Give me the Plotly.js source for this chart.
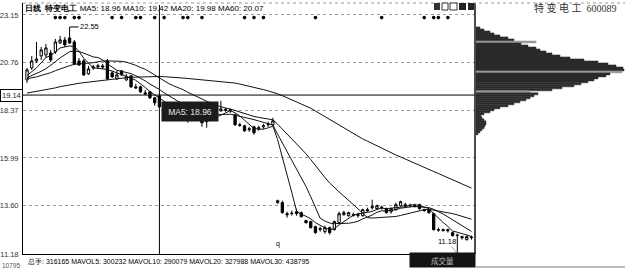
<!DOCTYPE html>
<html>
<head>
<meta charset="utf-8">
<script src="https://cdn.plot.ly/plotly-3.0.1.min.js"></script>
<style>
  html, body { margin: 0; padding: 0; background: #fff; }
  #chart { width: 625px; height: 272px; }
</style>
</head>
<body>
<div id="chart"></div>
<script>
// ---- daily bars: 特变电工 (600089) ----
const open  = [19.90,20.50,20.85,21.10,21.15,21.25,21.30,21.75,21.90,22.00,21.80,20.85,20.85,20.20,20.50,20.55,20.60,20.85,20.25,19.95,
               20.35,19.90,20.10,19.55,19.55,19.25,19.30,19.00,19.10,18.55,18.45,18.60,18.50,18.30,18.35,18.10,18.20,18.05,17.80,17.95,
               18.20,18.35,18.42,18.35,18.15,17.65,17.60,17.40,17.55,17.45,17.55,17.65,17.65,13.75,13.75,13.20,13.20,13.30,13.25,12.85,
               12.80,12.55,12.40,12.30,12.50,12.40,12.75,13.15,13.10,13.15,13.10,13.10,13.40,13.50,13.45,13.50,13.45,13.30,13.40,13.60,
               13.65,13.60,13.60,13.65,13.40,13.40,13.20,12.40,12.35,12.40,12.25,12.10,12.05,11.90,12.00];
const high  = [20.50,21.10,21.80,21.55,21.70,21.40,21.95,22.10,22.05,22.55,21.90,21.00,20.95,20.60,20.65,20.70,20.70,20.95,20.35,20.35,
               20.40,20.20,20.15,19.70,19.60,19.40,19.35,19.05,19.15,18.70,18.70,18.75,18.55,18.45,18.40,18.30,18.30,18.10,18.00,18.30,
               18.45,18.85,18.50,18.45,18.20,17.75,17.65,17.55,17.60,17.60,17.70,17.80,18.00,13.90,13.85,13.30,13.35,13.45,13.30,12.90,
               12.85,12.60,12.55,12.60,12.55,12.85,13.30,13.35,13.30,13.25,13.25,13.45,13.50,13.90,13.65,13.60,13.50,13.50,13.75,13.85,
               13.75,13.70,13.70,13.70,13.45,13.45,13.25,12.50,12.45,12.45,12.30,12.20,12.10,12.10,12.10];
const low   = [19.75,20.40,20.75,20.90,21.00,20.80,21.20,21.70,21.55,21.70,20.65,20.60,20.10,20.15,20.40,20.45,20.45,19.90,20.00,19.90,
               20.10,19.85,19.50,19.45,19.25,19.15,18.95,18.60,18.50,18.30,18.35,18.40,18.20,18.10,17.75,18.00,17.95,17.55,17.50,17.90,
               18.10,18.30,18.30,18.25,17.60,17.55,17.30,17.30,17.15,17.35,17.45,17.55,17.60,13.70,13.20,13.00,13.10,13.10,13.00,12.70,
               12.45,12.20,12.30,12.20,12.15,12.35,12.70,13.10,13.05,13.05,13.00,13.05,13.30,13.40,13.40,13.40,13.20,13.20,13.35,13.55,
               13.50,13.50,13.50,13.40,13.30,13.20,12.35,12.30,12.30,12.25,12.05,11.18,11.90,11.85,11.90];
const close = [20.40,20.85,20.95,21.40,21.50,20.90,21.80,21.90,21.65,21.75,20.70,20.65,20.15,20.45,20.55,20.60,20.55,19.95,20.05,20.15,
               20.15,20.05,19.55,19.50,19.30,19.20,19.00,18.75,18.55,18.45,18.60,18.50,18.30,18.35,18.10,18.20,18.05,17.75,17.90,18.20,
               18.35,18.45,18.38,18.40,17.65,17.62,17.35,17.45,17.25,17.50,17.60,17.68,17.85,13.85,13.25,13.15,13.22,13.20,13.05,12.75,
               12.50,12.25,12.45,12.50,12.25,12.80,13.20,13.25,13.25,13.12,13.15,13.40,13.35,13.55,13.60,13.52,13.25,13.45,13.65,13.80,
               13.60,13.62,13.58,13.45,13.35,13.25,12.40,12.38,12.40,12.35,12.10,12.12,12.00,12.05,12.02];

// moving averages of the close
const ma5  = [20.12,20.31,20.50,20.76,21.02,21.12,21.31,21.50,21.55,21.60,21.56,21.33,20.98,20.74,20.50,20.48,20.46,20.42,20.34,20.26,
              20.17,20.07,19.99,19.88,19.71,19.52,19.31,19.15,18.96,18.79,18.67,18.57,18.48,18.44,18.37,18.29,18.20,18.09,18.00,18.02,
              18.05,18.13,18.26,18.36,18.25,18.10,17.88,17.69,17.46,17.43,17.43,17.50,17.58,16.90,16.05,15.16,14.26,13.33,13.17,13.07,
              12.94,12.75,12.60,12.49,12.39,12.45,12.64,12.80,12.95,13.12,13.19,13.23,13.25,13.31,13.41,13.48,13.45,13.47,13.49,13.53,
              13.55,13.62,13.65,13.61,13.52,13.45,13.21,12.97,12.76,12.56,12.33,12.27,12.19,12.12,12.06];
const ma10 = [20.01,20.11,20.20,20.33,20.46,20.62,20.81,21.00,21.16,21.31,21.34,21.32,21.24,21.15,21.05,21.02,20.90,20.70,20.54,20.38,
              20.33,20.27,20.21,20.11,19.99,19.85,19.69,19.57,19.42,19.25,19.10,18.94,18.82,18.70,18.58,18.48,18.39,18.29,18.22,18.20,
              18.17,18.17,18.17,18.18,18.13,18.08,18.01,17.98,17.91,17.84,17.77,17.69,17.64,17.18,16.74,16.29,15.88,15.46,15.04,14.56,
              14.05,13.51,12.97,12.83,12.73,12.70,12.70,12.70,12.72,12.76,12.82,12.94,13.03,13.13,13.27,13.34,13.34,13.36,13.40,13.47,
              13.52,13.54,13.56,13.55,13.53,13.50,13.42,13.31,13.18,13.04,12.89,12.74,12.58,12.44,12.31];
const ma20 = [19.96,20.00,20.05,20.12,20.18,20.26,20.36,20.45,20.53,20.61,20.68,20.71,20.72,20.74,20.76,20.82,20.85,20.85,20.85,20.85,
              20.83,20.79,20.72,20.63,20.52,20.43,20.29,20.14,19.98,19.82,19.71,19.60,19.51,19.41,19.28,19.16,19.04,18.93,18.82,18.72,
              18.63,18.55,18.49,18.44,18.36,18.28,18.20,18.13,18.07,18.02,17.97,17.93,17.90,17.68,17.44,17.18,16.94,16.72,16.47,16.20,
              15.91,15.60,15.30,15.01,14.74,14.50,14.29,14.08,13.88,13.66,13.44,13.22,13.00,12.98,13.00,13.02,13.02,13.03,13.06,13.11,
              13.17,13.24,13.29,13.34,13.40,13.42,13.38,13.34,13.29,13.26,13.20,13.14,13.07,13.00,12.92];
const ma60 = [19.24,19.28,19.32,19.36,19.41,19.45,19.50,19.56,19.61,19.66,19.70,19.73,19.76,19.79,19.82,19.85,19.89,19.91,19.93,19.96,
              19.99,20.01,20.03,20.04,20.05,20.06,20.07,20.07,20.07,20.06,20.05,20.03,20.01,19.99,19.97,19.95,19.93,19.90,19.88,19.86,
              19.84,19.82,19.80,19.78,19.74,19.69,19.64,19.59,19.53,19.47,19.41,19.35,19.29,19.20,19.11,19.01,18.91,18.82,18.72,18.61,
              18.48,18.34,18.20,18.05,17.89,17.76,17.62,17.47,17.33,17.19,17.06,16.94,16.83,16.71,16.60,16.48,16.36,16.25,16.14,16.04,
              15.93,15.82,15.72,15.62,15.52,15.42,15.31,15.21,15.10,15.00,14.89,14.79,14.68,14.58,14.48];

// days carrying an information marker
const eventDays = [6,7,8,10,11,18,20,23,24,27,29,33,34,37,46,48,50,61,75,84,86,87,89];

// price axis labels
const priceTicks = [23.15, 20.76, 18.37, 15.99, 13.60, 11.18];
const priceTickText = ['23.15', '20.76', '18.37', '15.99', '13.60', '11.18'];

// cursor position
const cursorDay = 28;
const cursorPrice = 19.14;

// volume line of the status bar
const volNames  = ['总手', 'MAVOL5', 'MAVOL10', 'MAVOL20', 'MAVOL30'];
const volValues = [316165, 300232, 290079, 327988, 438795];

// chip distribution (volume by price)
const profilePrice = [22.5,22.4,22.3,22.2,22.1,22.0,21.9,21.8,21.7,21.6,21.5,21.4,21.3,21.2,21.1,21.0,20.9,20.8,20.7,20.6,
                      20.5,20.4,20.3,20.2,20.1,20.0,19.9,19.8,19.7,19.6,19.5,19.4,19.3,19.2,19.1,19.0,18.9,18.8,18.7,18.6,
                      18.5,18.4,18.3,18.2,18.1,18.0,17.9,17.8,17.7,17.6,17.5,17.4,17.3,17.2];
const profileVolume = [4,8,14,18,24,32,38,60,45,52,60,64,70,76,84,94,108,122,132,140,
                       147,148,146,134,130,122,118,112,105,98,86,76,54,62,58,54,50,44,38,32,
                       24,18,14,8,5,6,8,10,10,9,8,6,4,2];
const costLines = [21.8, 20.3, 19.3];

// ---- page geometry ----
const W = 625, H = 272;
const M = { l: 23, r: 0, t: 3, b: 18 };
const plotW = W - M.l - M.r, plotH = H - M.t - M.b;
const px = x => (x - M.l) / plotW;            // pixel x -> paper x
const py = y => (H - M.b - y) / plotH;        // pixel y -> paper y
const mainEnd = px(475), sideStart = px(476);
const Y_RANGE = [11.18, 23.75];
const X_RANGE = [-0.85, 94.74];
const EVENT_Y = 23.02;

const days = close.map((_, i) => i);
const f2 = v => v.toFixed(2);
const BASE = 'Liberation Sans, Arial, sans-serif';
const chipColors = profilePrice.map(p => costLines.includes(p) ? '#9a9a9a' : '#2b2b2b');

const traces = [
  {
    type: 'candlestick', x: days, open, high, low, close,
    xaxis: 'x', yaxis: 'y',
    increasing: { line: { color: '#000', width: 1 }, fillcolor: '#fff' },
    decreasing: { line: { color: '#000', width: 1 }, fillcolor: '#000' },
    whiskerwidth: 0, hoverinfo: 'skip', showlegend: false
  },
  ...[ma5, ma10, ma20, ma60].map(ma => ({
    type: 'scatter', mode: 'lines', x: days, y: ma,
    xaxis: 'x', yaxis: 'y',
    line: { color: '#111', width: 1 }, hoverinfo: 'skip', showlegend: false
  })),
  {
    type: 'scatter', mode: 'markers', x: eventDays, y: eventDays.map(() => EVENT_Y),
    xaxis: 'x', yaxis: 'y',
    marker: { color: '#000', size: 3.6 }, hoverinfo: 'skip', showlegend: false
  },
  {
    type: 'bar', orientation: 'h', y: profilePrice, x: profileVolume,
    xaxis: 'x2', yaxis: 'y2', width: 0.1,
    marker: { color: chipColors, line: { width: 0.5, color: chipColors } },
    hoverinfo: 'skip', showlegend: false
  }
];

const volText = volNames.map((n, i) => n + ': ' + volValues[i]).join(' ');
const header = '<b>日线</b>  <b>特变电工</b> MA5: ' + f2(ma5[cursorDay]) + ' MA10: ' + f2(ma10[cursorDay]) +
               ' MA20: ' + f2(ma20[cursorDay]) + ' MA60: ' + f2(ma60[cursorDay]);

const annotations = [
  { xref: 'paper', yref: 'paper', x: px(23), y: py(8), xanchor: 'left', yanchor: 'middle',
    text: header, showarrow: false, font: { family: BASE, size: 8, color: '#000' } },
  { xref: 'paper', yref: 'paper', x: px(190), y: py(111.5), xanchor: 'center', yanchor: 'middle',
    text: 'MA5: ' + f2(ma5[cursorDay]), showarrow: false, bgcolor: '#1c1c1c', borderpad: 3,
    width: 50, height: 13, font: { family: BASE, size: 8.5, color: '#e6e6e6' } },
  { xref: 'paper', yref: 'y', x: px(11), y: cursorPrice, xanchor: 'center', yanchor: 'middle',
    text: f2(cursorPrice), showarrow: false, bgcolor: '#fff', bordercolor: '#000', borderwidth: 1, borderpad: 1,
    font: { family: BASE, size: 7.5, color: '#222' } },
  { xref: 'x', yref: 'y', x: 9, y: Math.max(...high), text: f2(Math.max(...high)),
    showarrow: true, arrowhead: 0, arrowwidth: 1, arrowcolor: '#000', ax: 20, ay: 0, standoff: 0,
    font: { family: BASE, size: 7.5, color: '#000' } },
  { xref: 'x', yref: 'y', x: 91, y: Math.min(...low), text: f2(Math.min(...low)),
    showarrow: true, arrowhead: 0, arrowwidth: 0.6, arrowcolor: '#666', ax: -10, ay: -13, standoff: 0,
    font: { family: BASE, size: 7.5, color: '#000' } },
  { xref: 'x', yref: 'paper', x: 53, y: py(250), text: 'q', showarrow: false,
    font: { family: BASE, size: 7, color: '#000' } },
  { xref: 'paper', yref: 'paper', x: px(25), y: py(261), xanchor: 'left', yanchor: 'middle',
    text: volText, showarrow: false, font: { family: BASE, size: 7, color: '#000' } },
  { xref: 'paper', yref: 'paper', x: px(442.5), y: py(260), xanchor: 'center', yanchor: 'middle',
    text: '成交量', showarrow: false, bgcolor: '#141414', width: 63, height: 12, borderpad: 1,
    font: { family: 'Noto Sans CJK SC, sans-serif', size: 7.5, color: '#bbb' } },
  { xref: 'paper', yref: 'paper', x: px(575), y: py(8), xanchor: 'center', yanchor: 'middle',
    text: '特 变 电 工  600089', showarrow: false,
    font: { family: 'Liberation Serif, Noto Sans CJK SC, serif', size: 10, color: '#333' } },
  { xref: 'paper', yref: 'paper', x: px(11), y: py(265.5), xanchor: 'center', yanchor: 'middle',
    text: '10795', showarrow: false, font: { family: BASE, size: 6.5, color: '#555' } }
];

const shapes = [
  // cursor cross
  { type: 'line', xref: 'x', yref: 'paper', x0: cursorDay, x1: cursorDay, y0: 0, y1: py(5),
    line: { color: '#000', width: 1 } },
  { type: 'line', xref: 'paper', yref: 'y', x0: px(0), x1: mainEnd, y0: cursorPrice, y1: cursorPrice,
    line: { color: '#000', width: 1 } },
  // panel frame
  { type: 'line', xref: 'paper', yref: 'paper', x0: mainEnd, x1: mainEnd, y0: 0, y1: 1,
    line: { color: '#000', width: 1.4 } },
  { type: 'line', xref: 'paper', yref: 'paper', x0: 0, x1: 1, y0: 1, y1: 1,
    line: { color: '#999', width: 1, dash: 'dot' } },
  { type: 'line', xref: 'paper', yref: 'paper', x0: sideStart, x1: 1, y0: py(267), y1: py(267),
    line: { color: '#777', width: 1 } },
  // toolbar buttons
  { type: 'rect', xref: 'paper', yref: 'paper', x0: px(434), x1: px(440), y0: py(10), y1: py(3),
    fillcolor: '#333', line: { width: 0 } },
  { type: 'rect', xref: 'paper', yref: 'paper', x0: px(442), x1: px(448), y0: py(10), y1: py(3),
    fillcolor: '#fff', line: { color: '#333', width: 1 } },
  { type: 'rect', xref: 'paper', yref: 'paper', x0: px(450), x1: px(457), y0: py(10), y1: py(3),
    fillcolor: '#fff', line: { color: '#333', width: 1 } },
  { type: 'rect', xref: 'paper', yref: 'paper', x0: px(459), x1: px(466), y0: py(10), y1: py(3),
    fillcolor: '#222', line: { width: 0 } },
  { type: 'rect', xref: 'paper', yref: 'paper', x0: px(468), x1: px(474), y0: py(10), y1: py(3),
    fillcolor: '#222', line: { width: 0 } }
];

const layout = {
  width: W, height: H, margin: M,
  paper_bgcolor: '#fff', plot_bgcolor: '#fff',
  showlegend: false, hovermode: false, boxgap: 0.3,
  font: { family: BASE, size: 7.5, color: '#222' },
  xaxis: { domain: [0, mainEnd], range: X_RANGE, anchor: 'y', showgrid: false, zeroline: false,
           showticklabels: false, ticks: '', showline: true, linecolor: '#000', linewidth: 1,
           rangeslider: { visible: false }, fixedrange: true },
  yaxis: { domain: [0, 1], range: Y_RANGE, anchor: 'x', side: 'left',
           tickvals: priceTicks, ticktext: priceTickText, ticks: '', ticklabelstandoff: 2,
           tickfont: { family: BASE, size: 7.5, color: '#333' },
           showgrid: true, gridcolor: '#9a9a9a', griddash: 'dot', gridwidth: 1, zeroline: false,
           showline: true, linecolor: '#000', linewidth: 1, fixedrange: true },
  xaxis2: { domain: [sideStart, 1], range: [0, 149], anchor: 'y2', visible: false, fixedrange: true },
  yaxis2: { domain: [0, 1], range: Y_RANGE, anchor: 'x2', visible: false, showgrid: false, fixedrange: true },
  annotations, shapes
};

Plotly.newPlot('chart', traces, layout, { staticPlot: true, displayModeBar: false });
</script>
</body>
</html>
